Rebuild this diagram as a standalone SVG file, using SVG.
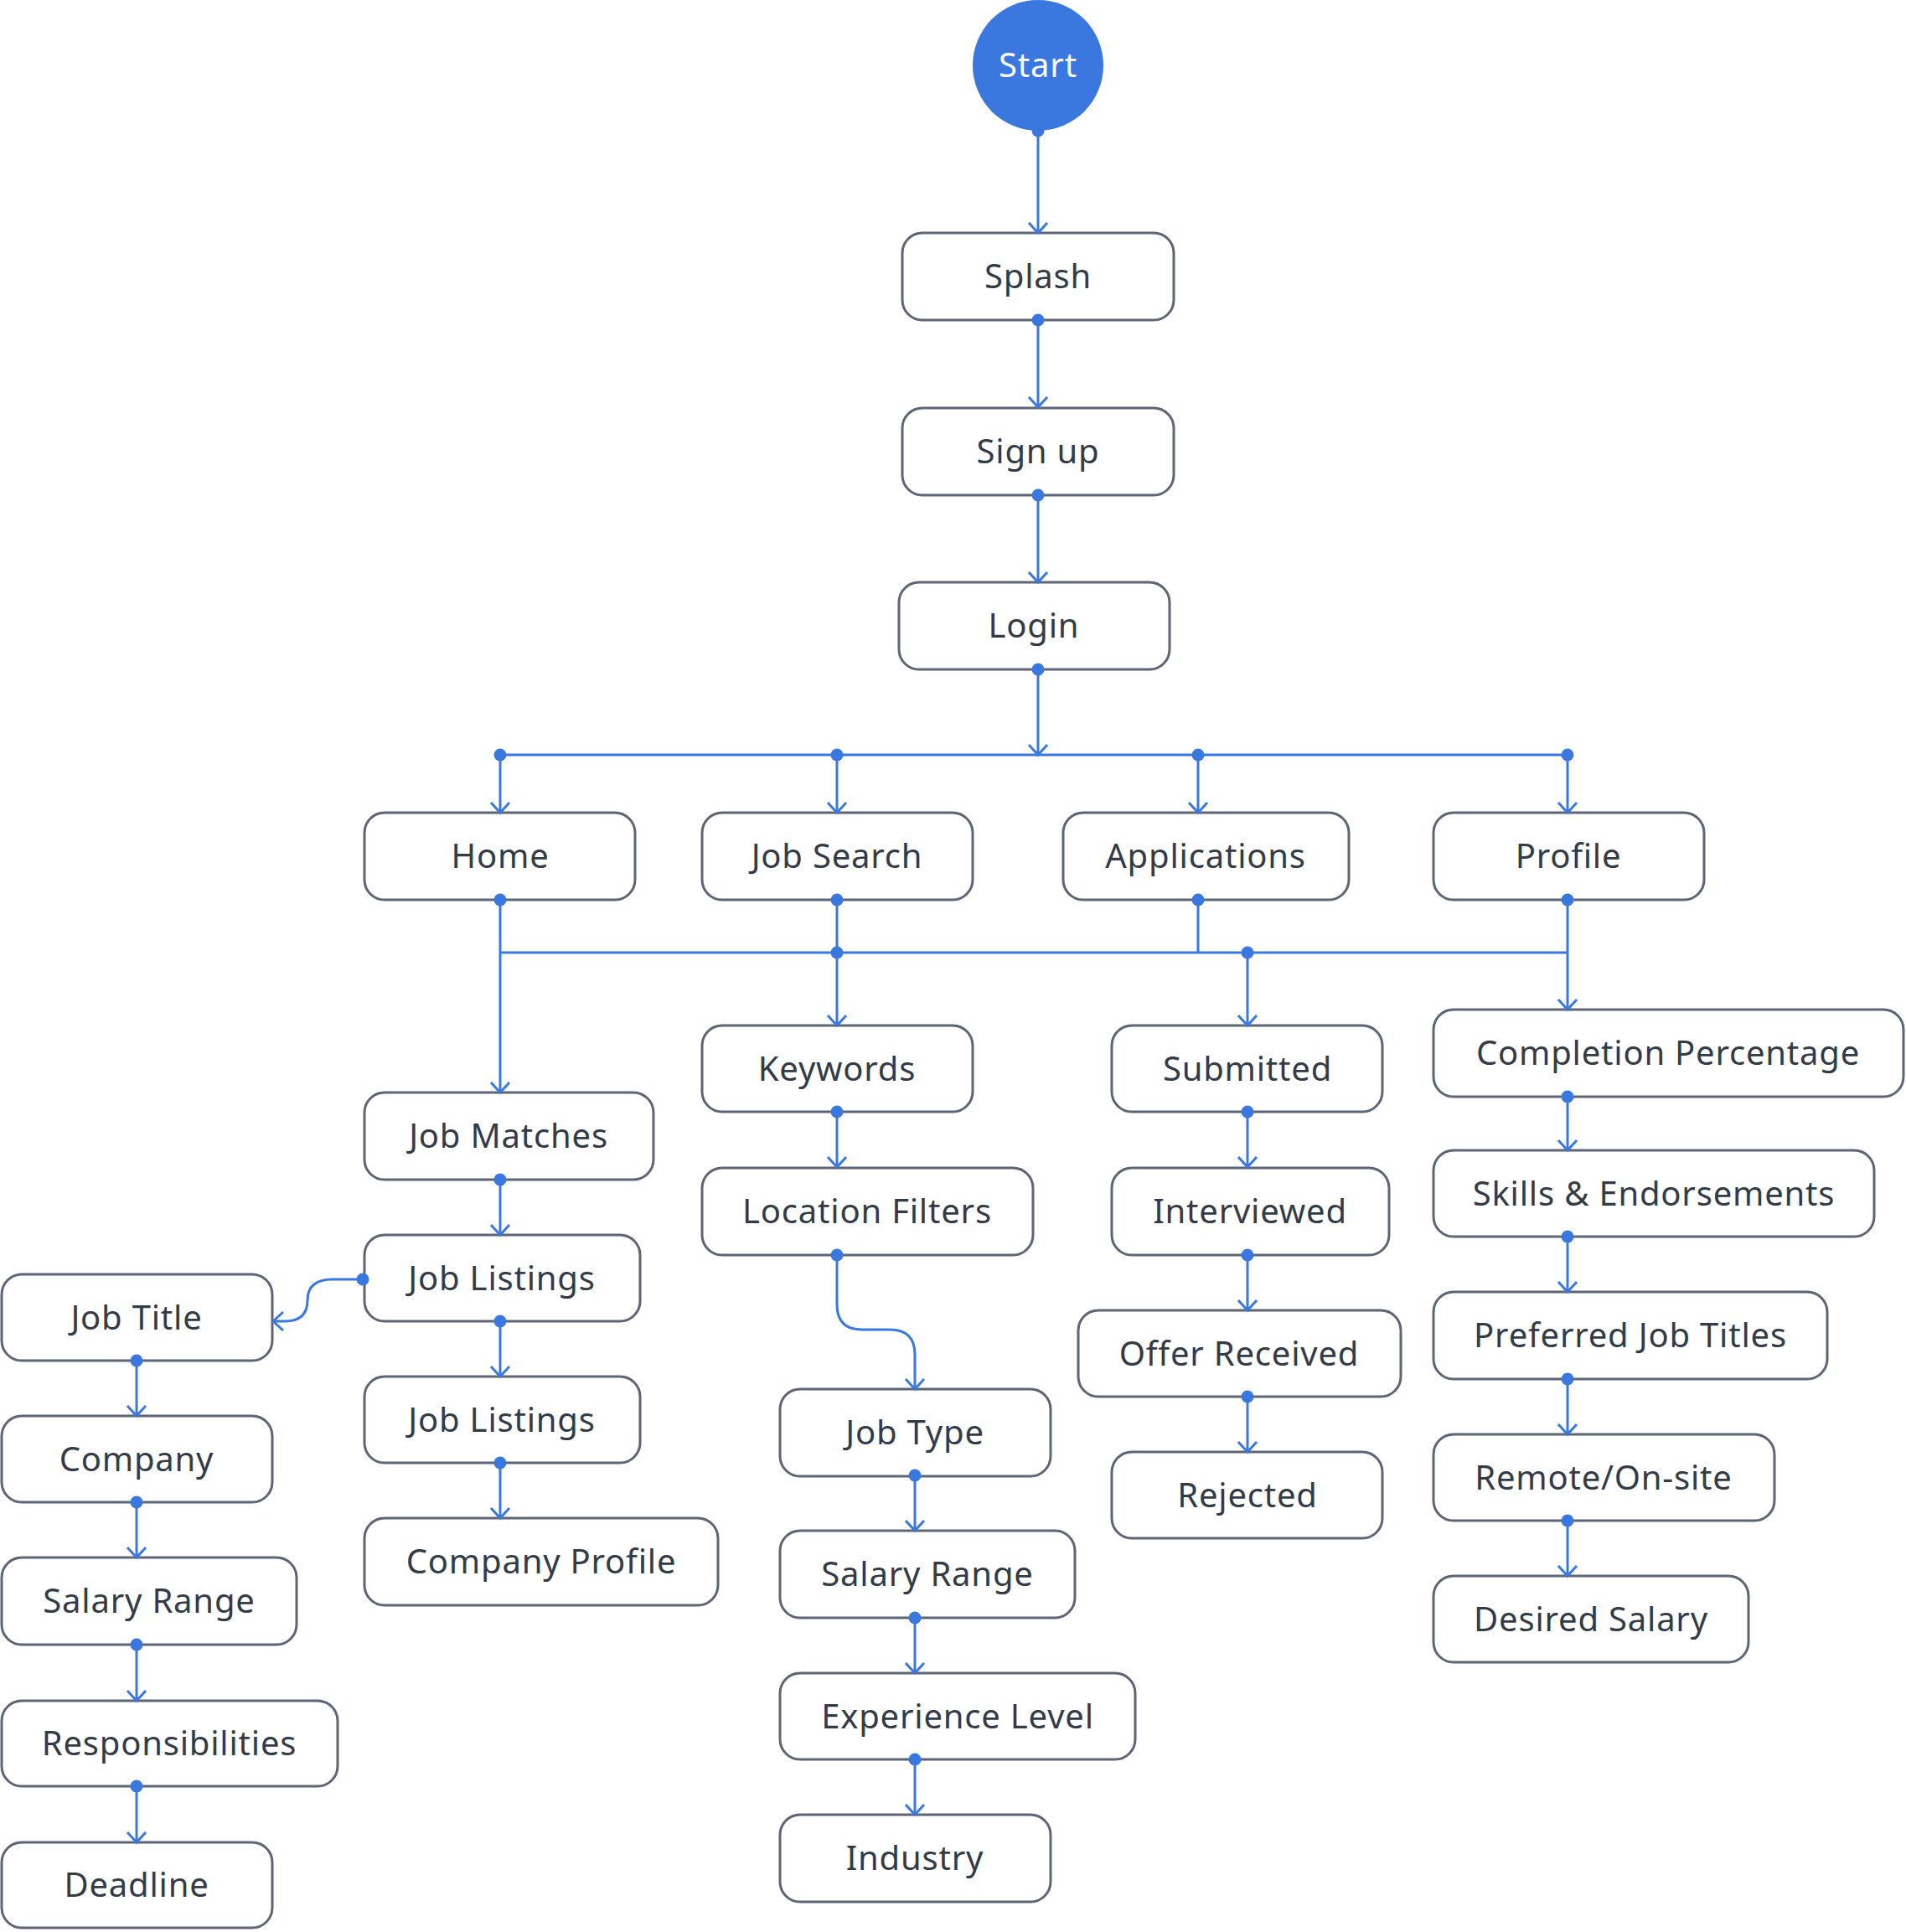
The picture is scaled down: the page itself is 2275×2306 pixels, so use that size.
<svg xmlns="http://www.w3.org/2000/svg" width="2275" height="2306" viewBox="0 0 2275 2306">
<style>
.n rect{fill:#fff;stroke:#5d6577;stroke-width:3}
.n text{font-family:"Noto Sans","Open Sans",sans-serif;font-size:40px;letter-spacing:0.8px;fill:#333b48;text-anchor:middle}
.c path{fill:none;stroke:#3a78e0;stroke-width:3}
.c .a{marker-end:url(#arr)}
.c .d{marker-start:url(#dot)}
</style>
<defs>
<marker id="arr" markerUnits="userSpaceOnUse" markerWidth="30" markerHeight="30" viewBox="-15 -15 30 30" refX="0" refY="0" orient="auto" overflow="visible">
<path d="M-12,-11 L0,0 L-12,11" fill="none" stroke="#3a78e0" stroke-width="3"/>
</marker>
<marker id="dot" markerUnits="userSpaceOnUse" markerWidth="20" markerHeight="20" viewBox="-10 -10 20 20" refX="0" refY="0" overflow="visible">
<circle r="7.5" fill="#3a78e0"/>
</marker>
</defs>
<rect width="2275" height="2306" fill="#fff"/>
<g id="start" class="n"><circle cx="1239" cy="78" r="78" fill="#3a78e0"/><text x="1239" y="92" style="fill:#fff">Start</text></g>
<g id="splash" class="n"><rect x="1077" y="278" width="324" height="104" rx="24"/><text x="1239" y="344">Splash</text></g>
<g id="signup" class="n"><rect x="1077" y="487" width="324" height="104" rx="24"/><text x="1239" y="553">Sign up</text></g>
<g id="login" class="n"><rect x="1073" y="695" width="323" height="104" rx="24"/><text x="1234" y="761">Login</text></g>
<g id="home" class="n"><rect x="435" y="970" width="323" height="104" rx="24"/><text x="597" y="1036">Home</text></g>
<g id="jobsearch" class="n"><rect x="838" y="970" width="323" height="104" rx="24"/><text x="999" y="1036">Job Search</text></g>
<g id="applications" class="n"><rect x="1269" y="970" width="341" height="104" rx="24"/><text x="1439" y="1036">Applications</text></g>
<g id="profile" class="n"><rect x="1711" y="970" width="323" height="104" rx="24"/><text x="1872" y="1036">Profile</text></g>
<g id="jobmatches" class="n"><rect x="435" y="1304" width="345" height="104" rx="24"/><text x="607" y="1370">Job Matches</text></g>
<g id="joblistings1" class="n"><rect x="435" y="1474" width="329" height="103" rx="24"/><text x="599" y="1540">Job Listings</text></g>
<g id="joblistings2" class="n"><rect x="435" y="1643" width="329" height="103" rx="24"/><text x="599" y="1709">Job Listings</text></g>
<g id="companyprofile" class="n"><rect x="435" y="1812" width="422" height="104" rx="24"/><text x="646" y="1878">Company Profile</text></g>
<g id="jobtitle" class="n"><rect x="2" y="1521" width="323" height="103" rx="24"/><text x="163" y="1587">Job Title</text></g>
<g id="company" class="n"><rect x="2" y="1690" width="323" height="103" rx="24"/><text x="163" y="1756">Company</text></g>
<g id="salaryrange1" class="n"><rect x="2" y="1859" width="352" height="104" rx="24"/><text x="178" y="1925">Salary Range</text></g>
<g id="responsibilities" class="n"><rect x="2" y="2030" width="401" height="102" rx="24"/><text x="202" y="2095">Responsibilities</text></g>
<g id="deadline" class="n"><rect x="2" y="2199" width="323" height="102" rx="24"/><text x="163" y="2264">Deadline</text></g>
<g id="keywords" class="n"><rect x="838" y="1224" width="323" height="103" rx="24"/><text x="999" y="1290">Keywords</text></g>
<g id="locationfilters" class="n"><rect x="838" y="1394" width="395" height="104" rx="24"/><text x="1035" y="1460">Location Filters</text></g>
<g id="jobtype" class="n"><rect x="931" y="1658" width="323" height="104" rx="24"/><text x="1092" y="1724">Job Type</text></g>
<g id="salaryrange2" class="n"><rect x="931" y="1827" width="352" height="104" rx="24"/><text x="1107" y="1893">Salary Range</text></g>
<g id="experiencelevel" class="n"><rect x="931" y="1997" width="424" height="103" rx="24"/><text x="1143" y="2063">Experience Level</text></g>
<g id="industry" class="n"><rect x="931" y="2166" width="323" height="104" rx="24"/><text x="1092" y="2232">Industry</text></g>
<g id="submitted" class="n"><rect x="1327" y="1224" width="323" height="103" rx="24"/><text x="1489" y="1290">Submitted</text></g>
<g id="interviewed" class="n"><rect x="1327" y="1394" width="331" height="104" rx="24"/><text x="1492" y="1460">Interviewed</text></g>
<g id="offerreceived" class="n"><rect x="1287" y="1564" width="385" height="103" rx="24"/><text x="1479" y="1630">Offer Received</text></g>
<g id="rejected" class="n"><rect x="1327" y="1733" width="323" height="103" rx="24"/><text x="1489" y="1799">Rejected</text></g>
<g id="completion" class="n"><rect x="1711" y="1205" width="561" height="104" rx="24"/><text x="1991" y="1271">Completion Percentage</text></g>
<g id="skills" class="n"><rect x="1711" y="1373" width="526" height="103" rx="24"/><text x="1974" y="1439">Skills &amp; Endorsements</text></g>
<g id="preferred" class="n"><rect x="1711" y="1542" width="470" height="104" rx="24"/><text x="1946" y="1608">Preferred Job Titles</text></g>
<g id="remote" class="n"><rect x="1711" y="1712" width="407" height="103" rx="24"/><text x="1914" y="1778">Remote/On-site</text></g>
<g id="desired" class="n"><rect x="1711" y="1881" width="376" height="103" rx="24"/><text x="1899" y="1947">Desired Salary</text></g>
<g id="connectors" class="c">
<path class="a d" d="M1239,156 L1239,278"/>
<path class="a d" d="M1239,382 L1239,486"/>
<path class="a d" d="M1239,591 L1239,695"/>
<path class="a d" d="M1239,799 L1239,901"/>
<path d="M597,901 L1871,901"/>
<path class="a d" d="M597,901 L597,970"/>
<path class="a d" d="M999,901 L999,970"/>
<path class="a d" d="M1430,901 L1430,970"/>
<path class="a d" d="M1871,901 L1871,970"/>
<path d="M597,1137 L1871,1137"/>
<path class="a d" d="M597,1074 L597,1304"/>
<path class="d" d="M999,1074 L999,1137"/>
<path class="a d" d="M999,1137 L999,1224"/>
<path class="d" d="M1430,1074 L1430,1137"/>
<path class="a d" d="M1489,1137 L1489,1224"/>
<path class="a d" d="M1871,1074 L1871,1205"/>
<path class="a d" d="M597,1408 L597,1474"/>
<path class="a d" d="M597,1577 L597,1643"/>
<path class="a d" d="M597,1746 L597,1812"/>
<path class="a d" d="M433,1527 L397,1527 Q367,1527 367,1552 Q367,1577 340,1577 L326,1577"/>
<path class="a d" d="M163,1624 L163,1690"/>
<path class="a d" d="M163,1793 L163,1859"/>
<path class="a d" d="M163,1963 L163,2030"/>
<path class="a d" d="M163,2132 L163,2199"/>
<path class="a d" d="M999,1327 L999,1393"/>
<path class="a d" d="M999,1498 L999,1557 Q999,1587 1029,1587 L1062,1587 Q1092,1587 1092,1617 L1092,1658"/>
<path class="a d" d="M1092,1761 L1092,1827"/>
<path class="a d" d="M1092,1931 L1092,1997"/>
<path class="a d" d="M1092,2100 L1092,2166"/>
<path class="a d" d="M1489,1327 L1489,1393"/>
<path class="a d" d="M1489,1498 L1489,1564"/>
<path class="a d" d="M1489,1667 L1489,1733"/>
<path class="a d" d="M1871,1309 L1871,1373"/>
<path class="a d" d="M1871,1476 L1871,1542"/>
<path class="a d" d="M1871,1646 L1871,1712"/>
<path class="a d" d="M1871,1815 L1871,1881"/>
</g>
</svg>
